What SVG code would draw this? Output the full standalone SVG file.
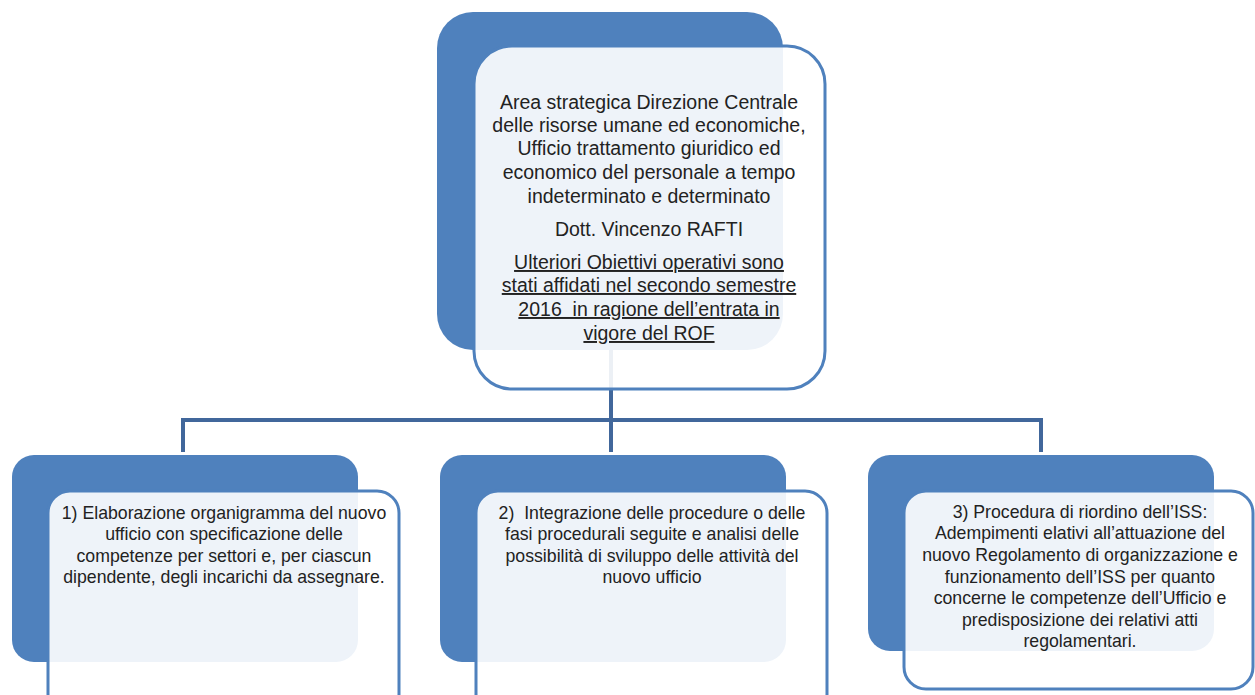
<svg xmlns="http://www.w3.org/2000/svg" width="1255" height="695" viewBox="0 0 1255 695">
<style>
.back{fill:#4F81BD;}
.front{fill:#FFFFFF;fill-opacity:0.9;stroke:#4F81BD;stroke-width:3;}
.conn{fill:none;stroke:#41679B;stroke-width:4;}
text{font-family:"Liberation Sans",Arial,sans-serif;fill:#222222;text-anchor:middle;}
.t1{font-size:19.5px;}
.t2{font-size:17.7px;}
.u{text-decoration:underline;}
</style>
<rect width="1255" height="695" fill="#FFFFFF"/>
<g id="connectors">
<path class="conn" d="M611,350 V420 M181,420 H1043 M183,418 V452 M611,420 V452 M1041,418 V452"/>
</g>
<g id="node-top">
<rect class="back" x="437" y="12" width="346" height="338" rx="36"/>
<rect class="front" x="474" y="46" width="351" height="343" rx="38"/>
<text class="t1" x="649" y="109">Area strategica Direzione Centrale</text>
<text class="t1" x="649" y="132">delle risorse umane ed economiche,</text>
<text class="t1" x="649" y="155">Ufficio trattamento giuridico ed</text>
<text class="t1" x="649" y="179">economico del personale a tempo</text>
<text class="t1" x="649" y="203">indeterminato e determinato</text>
<text class="t1" x="649" y="236">Dott. Vincenzo RAFTI</text>
<text class="t1 u" x="649" y="269">Ulteriori Obiettivi operativi sono</text>
<text class="t1 u" x="649" y="292">stati affidati nel secondo semestre</text>
<text class="t1 u" x="649" y="316" xml:space="preserve">2016  in ragione dell’entrata in</text>
<text class="t1 u" x="649" y="340">vigore del ROF</text>
</g>
<g id="node-1">
<rect class="back" x="12" y="455" width="346" height="207" rx="22"/>
<rect class="front" x="48" y="491" width="351" height="225" rx="22"/>
<text class="t2" x="224" y="519">1) Elaborazione organigramma del nuovo</text>
<text class="t2" x="224" y="540">ufficio con specificazione delle</text>
<text class="t2" x="224" y="562">competenze per settori e, per ciascun</text>
<text class="t2" x="224" y="583">dipendente, degli incarichi da assegnare.</text>
</g>
<g id="node-2">
<rect class="back" x="440" y="455" width="346" height="207" rx="22"/>
<rect class="front" x="476" y="491" width="351" height="225" rx="22"/>
<text class="t2" x="652" y="519" xml:space="preserve">2)  Integrazione delle procedure o delle</text>
<text class="t2" x="652" y="540">fasi procedurali seguite e analisi delle</text>
<text class="t2" x="652" y="562">possibilità di sviluppo delle attività del</text>
<text class="t2" x="652" y="583">nuovo ufficio</text>
</g>
<g id="node-3">
<rect class="back" x="868" y="455" width="346" height="196" rx="22"/>
<rect class="front" x="904" y="491" width="349" height="198" rx="22"/>
<text class="t2" x="1080" y="518">3) Procedura di riordino dell’ISS:</text>
<text class="t2" x="1080" y="539">Adempimenti elativi all’attuazione del</text>
<text class="t2" x="1080" y="561">nuovo Regolamento di organizzazione e</text>
<text class="t2" x="1080" y="583">funzionamento dell’ISS per quanto</text>
<text class="t2" x="1080" y="604">concerne le competenze dell’Ufficio e</text>
<text class="t2" x="1080" y="626">predisposizione dei relativi atti</text>
<text class="t2" x="1080" y="647">regolamentari.</text>
</g>
</svg>
